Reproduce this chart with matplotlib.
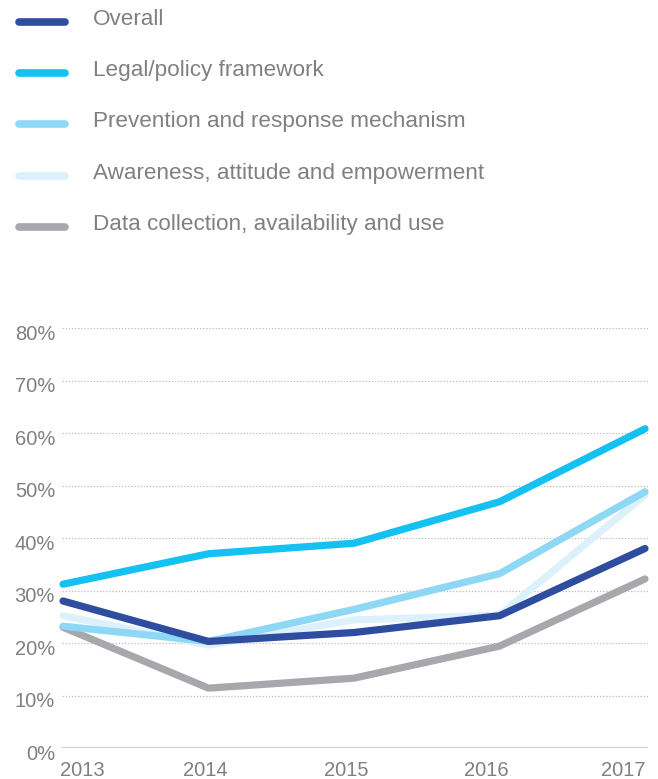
import matplotlib
matplotlib.use("Agg")
import matplotlib.pyplot as plt
from matplotlib.lines import Line2D
from matplotlib.transforms import ScaledTranslation

years = [2013, 2014, 2015, 2016, 2017]
overall = [28, 20.3, 22, 25.2, 38]
legal = [31.2, 37, 39, 46.9, 60.8]
prevention = [23.2, 20.3, 26.4, 33.2, 48.8]
awareness = [25.2, 19.6, 24.4, 25.3, 48.2]
data_use = [23, 11.4, 13.3, 19.4, 32.2]

names = ["Overall", "Legal/policy framework", "Prevention and response mechanism",
         "Awareness, attitude and empowerment", "Data collection, availability and use"]
colors = ["#2f4d9f", "#14c1f1", "#8ed8f5", "#dcf1fb", "#a7a8ab"]
series = [overall, legal, prevention, awareness, data_use]
draw_order = [4, 3, 2, 0, 1]

yticks = [0, 10, 20, 30, 40, 50, 60, 70, 80]

W, H = 658, 779
fig = plt.figure(figsize=(W / 100, H / 100), dpi=100)
plt.rcParams['font.family'] = ['Liberation Sans', 'DejaVu Sans']
text_color = "#808080"

ax = fig.add_axes([62 / W, 1 - 748 / H, (648 - 62) / W, (748 - 328) / H])
step = (645 - 63) / 4
ax.set_xlim(2013 - 1 / step, 2017 + 3 / step)
ax.set_ylim(0, 80)

for v in yticks[1:]:
    ax.axhline(v, color="#bdbdbd", lw=0.9, ls=(0, (1, 1.5)), zorder=1)
ax.axhline(0, color="#cccccc", lw=1.5, zorder=1)

for i in draw_order:
    ax.plot(years, series[i], color=colors[i], lw=5.2, solid_capstyle="round",
            solid_joinstyle="round", clip_on=False, zorder=2 + draw_order.index(i))

for s in ax.spines.values():
    s.set_visible(False)
ax.set_yticks(yticks)
ax.set_yticklabels([f"{v}%" for v in yticks])
ax.tick_params(axis="y", length=0, pad=5, labelsize=14.5, labelcolor=text_color)
shift = ScaledTranslation(0, -3 / 72, fig.dpi_scale_trans)
for lbl in ax.get_yticklabels():
    lbl.set_transform(lbl.get_transform() + shift)
ax.set_xticks([])
label_pos = [2013 - 3 / step, 2014 - 3 / step, 2015 - 8 / step, 2016 - 13 / step, 2017]
for k, yr in enumerate(years):
    ha = "left" if k == 0 else ("right" if k == len(years) - 1 else "center")
    ax.text(label_pos[k], -2.5, str(yr), ha=ha, va="top", fontsize=14.5, color=text_color,
            transform=ax.transData, clip_on=False)

# legend drawn at the top of the figure
for i, (name, c) in enumerate(zip(names, colors)):
    y = 1 - (22 + i * 51.2) / H
    fig.add_artist(Line2D([19 / W, 65 / W], [y, y], color=c, lw=5.5,
                          solid_capstyle="round", transform=fig.transFigure))
    fig.text(93 / W, y + 2.5 / H, name, ha="left", va="center", fontsize=16.2,
             color=text_color)

fig.savefig("out.png", dpi=100)
